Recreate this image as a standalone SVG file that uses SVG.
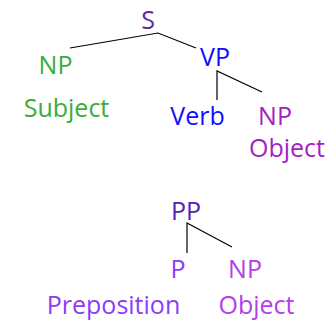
<svg xmlns="http://www.w3.org/2000/svg" width="335" height="321" viewBox="0 0 335 321">
<style>
text{font-family:"Open Sans","Liberation Sans",sans-serif;font-size:25px;text-anchor:middle}
.c{stroke:#000;stroke-width:1.2;fill:none}
</style>
<rect width="335" height="321" fill="#fff"/>
<g id="connectors">
<polyline class="c" points="70,48 158,33 196,48"/>
<polyline class="c" points="217,100 217,71 262,92"/>
<polyline class="c" points="187,253 187,223 232,247"/>
</g>
<g id="n-s"><text x="148" y="29" fill="#5b2ca6">S</text></g>
<g id="n-np-subj"><text x="55.5" y="74" fill="#3aad3a">NP</text><text x="66.5" y="117" fill="#3aad3a">Subject</text></g>
<g id="n-vp"><text x="215" y="66" fill="#1010ff">VP</text></g>
<g id="n-verb"><text x="197.5" y="125" fill="#1010ff">Verb</text></g>
<g id="n-np-obj"><text x="275" y="125" fill="#a322c2">NP</text><text x="287" y="157" fill="#a322c2">Object</text></g>
<g id="n-pp"><text x="186" y="220" fill="#5a22b0">PP</text></g>
<g id="n-p"><text x="178" y="278" fill="#8b3cf7">P</text><text x="113.5" y="314" fill="#8b3cf7">Preposition</text></g>
<g id="n-np-pobj"><text x="245" y="278" fill="#b340ea">NP</text><text x="256.5" y="314" fill="#b340ea">Object</text></g>
</svg>
